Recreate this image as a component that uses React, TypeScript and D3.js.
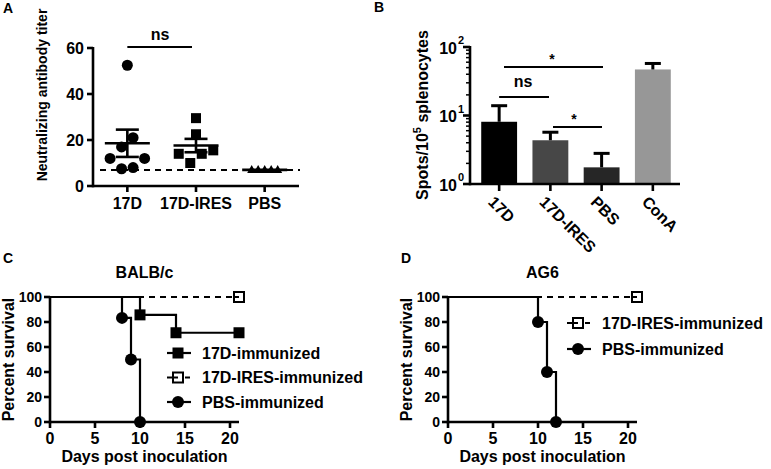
import React from "react";
import * as d3 from "d3";

// ---------- Panel A data ----------
const groupsA = ["17D", "17D-IRES", "PBS"];
const titer17D = [52.5, 21, 17, 12, 12, 7.5, 8];
const titer17DIRES = [29.5, 22.5, 15.5, 14, 14, 10];
const titerPBS = [7, 7, 7, 7, 7];
const detectionLimit = 7;
const ticksA = [0, 20, 40, 60];

// ---------- Panel B data ----------
const groupsB = ["17D", "17D-IRES", "PBS", "ConA"];
const spotsMean = [8.1, 4.35, 1.75, 47];
const spotsErr = [13.9, 5.7, 2.8, 57.5];
const barColors = ["#000000", "#474747", "#262626", "#979797"];
const ticksB = [1, 10, 100];
const tickExpB = ["0", "1", "2"];

// ---------- Panel C/D data ----------
const daysTicks = [0, 5, 10, 15, 20];
const survTicks = [0, 20, 40, 60, 80, 100];
const c17DDays = [10, 14, 21];
const c17DSurv = [85.7, 71.4, 71.4];
const cIRESDays = [21];
const cIRESSurv = [100];
const cPBSDays = [8, 9, 10];
const cPBSSurv = [83.3, 50, 0];
const dIRESDays = [21];
const dIRESSurv = [100];
const dPBSDays = [10, 11, 12];
const dPBSSurv = [80, 40, 0];

const FONT = "'Liberation Sans', Arial, sans-serif";
const SW = 2.6;

function swarm(vals: number[], y: (v: number) => number, spacing: number, diam: number) {
  // group points whose pixel y are chained within a diameter, then spread symmetrically
  const idx = vals.map((v, i) => i).sort((a, b) => vals[a] - vals[b]);
  const groups: number[][] = [];
  let cur: number[] = [];
  idx.forEach((i, k) => {
    if (k > 0 && Math.abs(y(vals[i]) - y(vals[idx[k - 1]])) >= diam) {
      groups.push(cur);
      cur = [];
    }
    cur.push(i);
  });
  if (cur.length) groups.push(cur);
  const off = new Array(vals.length).fill(0);
  groups.forEach((g) => {
    const n = g.length;
    const slots = d3.range(n).map((k) => (k - (n - 1) / 2) * spacing);
    const order = slots.slice().sort((a, b) => Math.abs(a) - Math.abs(b) || a - b);
    g.forEach((i, k) => (off[i] = order[k]));
  });
  return off;
}

function PanelA() {
  const x = d3.scalePoint<string>().domain(groupsA).range([93, 299]).padding(0.5);
  const y = d3.scaleLinear().domain([0, 60]).range([186, 48]);
  const sets = [titer17D, titer17DIRES, titerPBS];
  const shapes = ["circle", "square", "triangle"];
  return (
    <g>
      <text x={3} y={13} fontSize={14} fontWeight="bold">A</text>
      <line x1={93} x2={93} y1={y(60) - 1} y2={y(0) + SW / 2} stroke="#000" strokeWidth={SW} />
      <line x1={93} x2={299} y1={y(0)} y2={y(0)} stroke="#000" strokeWidth={SW} />
      {ticksA.map((t) => (
        <g key={t}>
          <line x1={87} x2={93} y1={y(t)} y2={y(t)} stroke="#000" strokeWidth={SW} />
          <text x={84} y={y(t)} dy="0.36em" textAnchor="end" fontSize={16} fontWeight="bold">{t}</text>
        </g>
      ))}
      {groupsA.map((g) => (
        <g key={g}>
          <line x1={x(g)} x2={x(g)} y1={y(0)} y2={y(0) + 6} stroke="#000" strokeWidth={SW} />
          <text x={x(g)} y={y(0) + 23} textAnchor="middle" fontSize={16} fontWeight="bold">{g}</text>
        </g>
      ))}
      <text transform={`translate(47,${95}) rotate(-90)`} textAnchor="middle" fontSize={14} fontWeight="bold">
        Neutralizing antibody titer
      </text>
      <line x1={100} x2={300} y1={y(detectionLimit)} y2={y(detectionLimit)} stroke="#000" strokeWidth={2} strokeDasharray="6,5" />
      {sets.map((vals, gi) => {
        const cx = x(groupsA[gi])!;
        const shape = shapes[gi];
        const spacing = shape === "triangle" ? 6.5 : 11.5;
        const off = swarm(vals, y, spacing, 11);
        const mean = d3.mean(vals)!;
        const sem = vals.length > 1 ? d3.deviation(vals)! / Math.sqrt(vals.length) : 0;
        return (
          <g key={gi}>
            {vals.map((v, i) => {
              const px = cx + off[i];
              const py = y(v);
              if (shape === "circle") return <circle key={i} cx={px} cy={py} r={5.5} fill="#000" />;
              if (shape === "square") return <rect key={i} x={px - 5} y={py - 5} width={10} height={10} fill="#000" />;
              return <path key={i} d={`M${px},${py - 5}L${px + 4.5},${py + 3}L${px - 4.5},${py + 3}Z`} fill="#000" />;
            })}
            <line x1={cx - 22.5} x2={cx + 22.5} y1={y(mean)} y2={y(mean)} stroke="#000" strokeWidth={SW} />
            {sem > 0 && (
              <g>
                <line x1={cx} x2={cx} y1={y(mean + sem)} y2={y(mean - sem)} stroke="#000" strokeWidth={SW} />
                <line x1={cx - 11.5} x2={cx + 11.5} y1={y(mean + sem)} y2={y(mean + sem)} stroke="#000" strokeWidth={SW} />
                <line x1={cx - 11.5} x2={cx + 11.5} y1={y(mean - sem)} y2={y(mean - sem)} stroke="#000" strokeWidth={SW} />
              </g>
            )}
          </g>
        );
      })}
      <line x1={x("17D")} x2={192} y1={47} y2={47} stroke="#000" strokeWidth={2} />
      <text x={160} y={40} textAnchor="middle" fontSize={16} fontWeight="bold">ns</text>
    </g>
  );
}

function PanelB() {
  const x = d3.scaleBand<string>().domain(groupsB).range([472, 680]).paddingInner(0.3).paddingOuter(0.18);
  const y = d3.scaleLog().domain([1, 100]).range([184, 47]);
  const minor: number[] = [];
  [1, 10].forEach((b) => d3.range(2, 10).forEach((k) => minor.push(b * k)));
  const bw = x.bandwidth();
  const cx = (g: string) => x(g)! + bw / 2;
  return (
    <g>
      <text x={374} y={12} fontSize={14} fontWeight="bold">B</text>
      {groupsB.map((g, i) => (
        <g key={g}>
          <rect x={x(g)} y={y(spotsMean[i])} width={bw} height={y(1) - y(spotsMean[i])} fill={barColors[i]} />
          <line x1={cx(g)} x2={cx(g)} y1={y(spotsErr[i])} y2={y(spotsMean[i])} stroke="#000" strokeWidth={3} />
          <line x1={cx(g) - 8} x2={cx(g) + 8} y1={y(spotsErr[i])} y2={y(spotsErr[i])} stroke="#000" strokeWidth={3} />
        </g>
      ))}
      <line x1={470} x2={470} y1={y(100) - 1} y2={y(1) + SW / 2} stroke="#000" strokeWidth={SW} />
      <line x1={470} x2={680} y1={y(1)} y2={y(1)} stroke="#000" strokeWidth={SW} />
      {minor.map((m) => (
        <line key={m} x1={466} x2={470} y1={y(m)} y2={y(m)} stroke="#000" strokeWidth={1.5} />
      ))}
      {ticksB.map((t, i) => (
        <g key={t}>
          <line x1={463} x2={470} y1={y(t)} y2={y(t)} stroke="#000" strokeWidth={SW} />
          <text x={457} y={y(t)} dy="0.42em" textAnchor="end" fontSize={16} fontWeight="bold">10</text>
          <text x={458} y={y(t) - 3} textAnchor="start" fontSize={11} fontWeight="bold">{tickExpB[i]}</text>
        </g>
      ))}
      {groupsB.map((g) => (
        <g key={g}>
          <line x1={cx(g)} x2={cx(g)} y1={y(1)} y2={y(1) + 7} stroke="#000" strokeWidth={SW} />
          <text
            transform={`translate(${cx(g) - 4},${y(1) + 11}) rotate(45)`}
            textAnchor="start"
            dy="0.7em"
            fontSize={16}
            fontWeight="bold"
          >
            {g}
          </text>
        </g>
      ))}
      <text transform={`translate(428,115) rotate(-90)`} textAnchor="middle" fontSize={16} fontWeight="bold">
        Spots/10
        <tspan dy="-7" fontSize={11}>5</tspan>
        <tspan dy="7"> splenocytes</tspan>
      </text>
      <line x1={cx("17D")} x2={549} y1={97} y2={97} stroke="#000" strokeWidth={2} />
      <text x={523} y={87} textAnchor="middle" fontSize={16} fontWeight="bold">ns</text>
      <line x1={504} x2={603} y1={67} y2={67} stroke="#000" strokeWidth={2} />
      <text x={552} y={64} textAnchor="middle" fontSize={14} fontWeight="bold">*</text>
      <line x1={553} x2={602} y1={127} y2={127} stroke="#000" strokeWidth={2} />
      <text x={574} y={124} textAnchor="middle" fontSize={14} fontWeight="bold">*</text>
    </g>
  );
}

type Series = { days: number[]; surv: number[]; marker: "square" | "open" | "circle"; dashed: boolean; label: string };

function Marker({ kind, x, y }: { kind: string; x: number; y: number }) {
  if (kind === "square") return <rect x={x - 5.5} y={y - 5.5} width={11} height={11} fill="#000" />;
  if (kind === "circle") return <circle cx={x} cy={y} r={6} fill="#000" />;
  return (
    <g>
      <rect x={x - 5} y={y - 5} width={10} height={10} fill="#fff" stroke="#000" strokeWidth={2} />
      <line x1={x - 5} x2={x} y1={y} y2={y} stroke="#000" strokeWidth={2} />
    </g>
  );
}

function Survival({
  letter, title, x0, series, legendX, legendY, legendGap,
}: {
  letter: string; title: string; x0: number; series: Series[]; legendX: number; legendY: number; legendGap: number;
}) {
  const x = d3.scaleLinear().domain([0, 21]).range([x0, x0 + 189]);
  const y = d3.scaleLinear().domain([0, 100]).range([422, 297]);
  const line = d3.line<[number, number]>().x((d) => x(d[0])).y((d) => y(d[1])).curve(d3.curveStepAfter);
  const ordered = [...series].sort((a, b) => (a.dashed === b.dashed ? 0 : a.dashed ? -1 : 1));
  return (
    <g>
      <text x={x0 - 47} y={263} fontSize={14} fontWeight="bold">{letter}</text>
      <text x={x(10.5)} y={278} textAnchor="middle" fontSize={16} fontWeight="bold">{title}</text>
      {ordered.map((s, si) => {
        const pts: [number, number][] = [[0, 100], ...s.days.map((d, i) => [d, s.surv[i]] as [number, number])];
        return (
          <path key={si} d={line(pts)!} fill="none" stroke="#000" strokeWidth={2.2} strokeDasharray={s.dashed ? "6,5" : undefined} />
        );
      })}
      <line x1={x0} x2={x0} y1={y(100) - 1} y2={y(0) + SW / 2} stroke="#000" strokeWidth={SW} />
      <line x1={x0} x2={x(21)} y1={y(0)} y2={y(0)} stroke="#000" strokeWidth={SW} />
      {survTicks.map((t) => (
        <g key={t}>
          <line x1={x0 - 6} x2={x0} y1={y(t)} y2={y(t)} stroke="#000" strokeWidth={SW} />
          <text x={x0 - 8} y={y(t)} dy="0.36em" textAnchor="end" fontSize={14} fontWeight="bold">{t}</text>
        </g>
      ))}
      {daysTicks.map((t) => (
        <g key={t}>
          <line x1={x(t)} x2={x(t)} y1={y(0)} y2={y(0) + 6} stroke="#000" strokeWidth={SW} />
          <text x={x(t)} y={y(0) + 21.5} textAnchor="middle" fontSize={16} fontWeight="bold">{t}</text>
        </g>
      ))}
      <text x={x(10.5)} y={462} textAnchor="middle" fontSize={16} fontWeight="bold">Days post inoculation</text>
      <text transform={`translate(${x0 - 36},${y(50)}) rotate(-90)`} textAnchor="middle" fontSize={16} fontWeight="bold">
        Percent survival
      </text>
      {ordered.map((s, si) => (
        <g key={si}>
          {s.days.map((d, i) => (
            <Marker key={i} kind={s.marker} x={x(d)} y={y(s.surv[i])} />
          ))}
        </g>
      ))}
      {series.map((s, i) => {
        const ly = legendY + i * legendGap;
        return (
          <g key={s.label}>
            <line x1={legendX - 11} x2={legendX + 13} y1={ly} y2={ly} stroke="#000" strokeWidth={2.2} strokeDasharray={s.dashed ? "5,4" : undefined} />
            <Marker kind={s.marker} x={legendX} y={ly} />
            <text x={legendX + 24} y={ly} dy="0.36em" fontSize={16} fontWeight="bold">{s.label}</text>
          </g>
        );
      })}
    </g>
  );
}

export default function App() {
  const seriesC: Series[] = [
    { days: c17DDays, surv: c17DSurv, marker: "square", dashed: false, label: "17D-immunized" },
    { days: cIRESDays, surv: cIRESSurv, marker: "open", dashed: true, label: "17D-IRES-immunized" },
    { days: cPBSDays, surv: cPBSSurv, marker: "circle", dashed: false, label: "PBS-immunized" },
  ];
  const seriesD: Series[] = [
    { days: dIRESDays, surv: dIRESSurv, marker: "open", dashed: true, label: "17D-IRES-immunized" },
    { days: dPBSDays, surv: dPBSSurv, marker: "circle", dashed: false, label: "PBS-immunized" },
  ];
  return (
    <svg
      width={771}
      height={469}
      viewBox="0 0 771 469"
      style={{ position: "absolute", left: 0, top: 0, background: "#fff", fontFamily: FONT }}
      fontFamily={FONT}
    >
      <rect width={771} height={469} fill="#fff" />
      <PanelA />
      <PanelB />
      <Survival letter="C" title="BALB/c" x0={50} series={seriesC} legendX={178} legendY={353} legendGap={24.5} />
      <Survival letter="D" title="AG6" x0={448} series={seriesD} legendX={578} legendY={323} legendGap={26} />
    </svg>
  );
}
